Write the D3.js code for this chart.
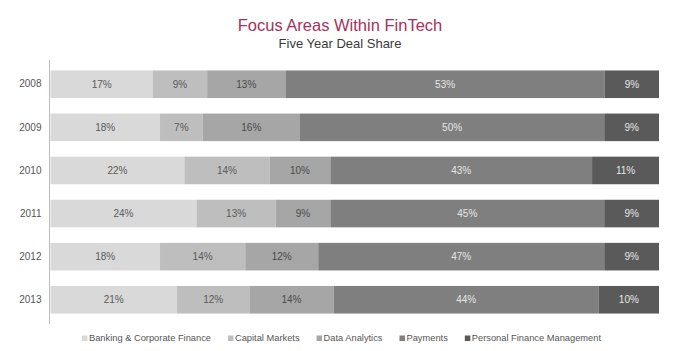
<!DOCTYPE html>
<html>
<head>
<meta charset="utf-8">
<script src="https://cdn.jsdelivr.net/npm/d3@7"></script>
<style>
body { margin: 0; background: #fff; }
text { font-family: "Liberation Sans", Arial, sans-serif; }
</style>
</head>
<body>
<svg width="680" height="351"></svg>
<script>
var years = ["2008", "2009", "2010", "2011", "2012", "2013"];
var areas = ["Banking & Corporate Finance", "Capital Markets", "Data Analytics", "Payments", "Personal Finance Management"];
var banking   = [17, 18, 22, 24, 18, 21];
var capital   = [9, 7, 14, 13, 14, 12];
var analytics = [13, 16, 10, 9, 12, 14];
var payments  = [53, 50, 43, 45, 47, 44];
var personal  = [9, 9, 11, 9, 9, 10];
var colors = ["#d9d9d9", "#bebebe", "#a6a6a6", "#7f7f7f", "#5a5a5a"];
var labelColors = ["#5a5a5a", "#5a5a5a", "#4a4a4a", "#e6e6e6", "#e6e6e6"];

var series = [banking, capital, analytics, payments, personal];
var data = years.map(function(y, i) {
  var row = { year: y };
  areas.forEach(function(a, j) { row[a] = series[j][i]; });
  return row;
});

var svg = d3.select("svg"),
    width = +svg.attr("width"),
    height = +svg.attr("height");

var x = d3.scaleLinear().domain([0, 1]).range([50.5, 659]);
var y = d3.scaleBand().domain(years).range([60, 324]).paddingInner(0.36).paddingOuter(0.2425);
var color = d3.scaleOrdinal().domain(areas).range(colors);

var stack = d3.stack().keys(areas).offset(d3.stackOffsetExpand);
var layers = stack(data);

// title
svg.append("text")
  .attr("x", 340).attr("y", 31)
  .attr("text-anchor", "middle")
  .attr("fill", "#a8305a")
  .style("font-size", "16.5px")
  .text("Focus Areas Within FinTech");
svg.append("text")
  .attr("x", 340).attr("y", 48)
  .attr("text-anchor", "middle")
  .attr("fill", "#3a3a3a")
  .style("font-size", "13px")
  .text("Five Year Deal Share");

// bars
var g = svg.append("g");
layers.forEach(function(layer, j) {
  var lg = g.append("g").attr("fill", color(layer.key));
  lg.selectAll("rect")
    .data(layer)
    .enter().append("rect")
    .attr("x", function(d) { return x(d[0]); })
    .attr("y", function(d) { return y(d.data.year); })
    .attr("width", function(d) { return x(d[1]) - x(d[0]); })
    .attr("height", y.bandwidth());
  lg.selectAll("text")
    .data(layer)
    .enter().append("text")
    .attr("x", function(d) { return (x(d[0]) + x(d[1])) / 2; })
    .attr("y", function(d) { return y(d.data.year) + y.bandwidth() / 2; })
    .attr("dy", "0.35em")
    .attr("text-anchor", "middle")
    .attr("fill", labelColors[j])
    .style("font-size", "10px")
    .text(function(d) { return d.data[layer.key] + "%"; });
});

// y axis
var yAxis = svg.append("g")
  .attr("transform", "translate(49.5,0)")
  .call(d3.axisLeft(y).tickSize(0).tickPadding(8));
yAxis.select(".domain").attr("stroke", "#bbb").attr("d", "M0,60V324");
yAxis.selectAll("text").attr("fill", "#555").style("font-size", "10px")
  .style("font-family", "'Liberation Sans', Arial, sans-serif");

// legend
var legend = svg.append("g").attr("transform", "translate(0,341)");
var lx = 82;
areas.forEach(function(a, j) {
  var item = legend.append("g").attr("transform", "translate(" + lx + ",0)");
  item.append("rect")
    .attr("x", 0).attr("y", -5.5)
    .attr("width", 5.5).attr("height", 5.5)
    .attr("fill", colors[j]);
  var t = item.append("text")
    .attr("x", 7).attr("y", 0)
    .attr("fill", "#555")
    .style("font-size", "9.3px")
    .text(a);
  lx += 7 + t.node().getComputedTextLength() + 17;
});
</script>
</body>
</html>
